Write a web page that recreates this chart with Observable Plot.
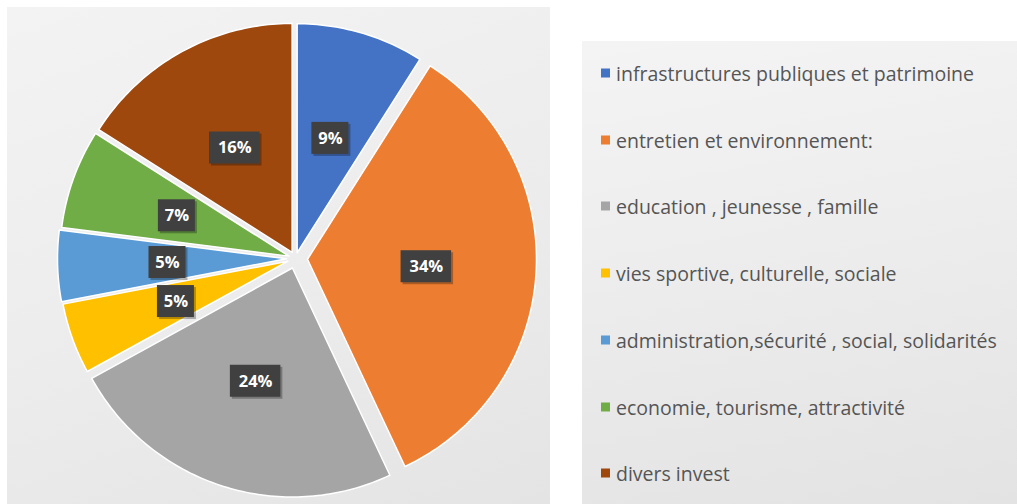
<!DOCTYPE html>
<html>
<head>
<meta charset="utf-8">
<script src="https://cdn.jsdelivr.net/npm/d3@7"></script>
<script src="https://cdn.jsdelivr.net/npm/@observablehq/plot@0.6"></script>
<style>
  html, body { margin: 0; padding: 0; background: #ffffff; }
  #wrap { position: relative; width: 1017px; height: 504px; overflow: hidden; font-family: "Open Sans", sans-serif; }
  #leftPanel { position: absolute; left: 7px; top: 7px; width: 543px; height: 497px;
    background: linear-gradient(160deg, #f3f3f3 0%, #ececec 55%, #e4e4e4 100%); }
  #rightPanel { position: absolute; left: 582px; top: 41px; width: 435px; height: 463px;
    background: linear-gradient(170deg, #f4f4f4 0%, #ececec 50%, #e3e3e3 100%); }
  #chart { position: absolute; left: 0; top: 0; }
  #legend { position: absolute; left: 601px; top: 0; }
  .item { position: absolute; left: 0; display: flex; align-items: center; white-space: nowrap;
    font-family: "Open Sans", sans-serif; font-size: 19.5px; color: #555555; transform: translateY(-50%); }
  .sw { width: 9px; height: 9px; margin-right: 6px; flex: none; }
</style>
</head>
<body>
<div id="wrap">
  <div id="leftPanel"></div>
  <div id="rightPanel"></div>
  <div id="chart"></div>
  <div id="legend"></div>
</div>
<script>
// ---- data ----
const categories = [
  "infrastructures publiques et patrimoine",
  "entretien et environnement:",
  "education , jeunesse , famille",
  "vies sportive, culturelle, sociale",
  "administration,sécurité , social, solidarités",
  "economie, tourisme, attractivité",
  "divers invest"
];
const values = [9, 34, 24, 5, 5, 7, 16];
const labels = ["9%", "34%", "24%", "5%", "5%", "7%", "16%"];

// ---- styles ----
const colors = ["#4472C4", "#ED7D31", "#A5A5A5", "#FFC000", "#5B9BD5", "#70AD47", "#9E480E"];
const explodePx = [6, 12, 10, 8, 9, 7, 7];

const W = 560, H = 504, CX = 295, CY = 258, R = 229;

const total = d3.sum(values);
let acc = 0;
const slices = values.map((v, i) => {
  const a0 = acc / total * 2 * Math.PI;
  acc += v;
  const a1 = acc / total * 2 * Math.PI;
  const mid = (a0 + a1) / 2;
  const off = explodePx[i] / R;
  return { i, cat: categories[i], a0, a1, mid, ox: off * Math.sin(mid), oy: off * Math.cos(mid) };
});

const pts = [];
for (const s of slices) {
  pts.push({ cat: s.cat, x: s.ox, y: s.oy });
  const n = Math.max(4, Math.ceil((s.a1 - s.a0) / (Math.PI / 180)));
  for (let k = 0; k <= n; k++) {
    const a = s.a0 + (s.a1 - s.a0) * k / n;
    pts.push({ cat: s.cat, x: s.ox + Math.sin(a), y: s.oy + Math.cos(a) });
  }
}

const labelR = 0.52;
const lab = slices.map(s => {
  const x = s.ox + labelR * Math.sin(s.mid);
  const y = s.oy + labelR * Math.cos(s.mid);
  const hw = (10 + 13.5 * labels[s.i].length) / 2 / R;
  const hh = 16 / R;
  return { text: labels[s.i], x, y, x1: x - hw, x2: x + hw, y1: y - hh, y2: y + hh };
});

const plot = Plot.plot({
  width: W, height: H,
  margin: 0,
  style: { background: "transparent", overflow: "visible" },
  x: { domain: [-CX / R, (W - CX) / R], range: [0, W], axis: null },
  y: { domain: [-(H - CY) / R, CY / R], range: [H, 0], axis: null },
  color: { domain: categories, range: colors },
  marks: [
    Plot.line(pts, { x: "x", y: "y", z: "cat", fill: "cat", stroke: "#ffffff", strokeWidth: 1.5,
      strokeLinejoin: "round", curve: "linear-closed" }),
    Plot.rect(lab, { x1: "x1", x2: "x2", y1: "y1", y2: "y2", fill: "#000000", fillOpacity: 0.28, dx: 2, dy: 2 }),
    Plot.rect(lab, { x1: "x1", x2: "x2", y1: "y1", y2: "y2", fill: "#404040" }),
    Plot.text(lab, { x: "x", y: "y", text: "text", fill: "#ffffff", fontSize: 16.5, fontWeight: "bold",
      fontFamily: "Open Sans, sans-serif" })
  ]
});
document.getElementById("chart").appendChild(plot);

// ---- legend ----
const legend = document.getElementById("legend");
const rowY0 = 73, rowStep = 66.7;
categories.forEach((c, i) => {
  const it = document.createElement("div");
  it.className = "item";
  it.style.top = (rowY0 + i * rowStep) + "px";
  const sw = document.createElement("span");
  sw.className = "sw";
  sw.style.background = colors[i];
  const t = document.createElement("span");
  t.textContent = c;
  it.appendChild(sw); it.appendChild(t);
  legend.appendChild(it);
});
</script>
</body>
</html>
